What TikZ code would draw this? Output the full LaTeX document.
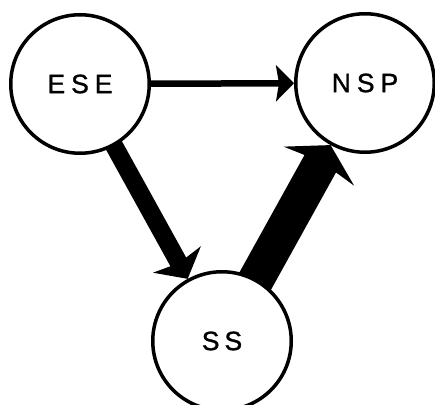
\documentclass[tikz,border=0pt]{standalone}
\usepackage{fontspec}
\setmainfont{Liberation Sans}[FakeBold=1.2]
\usetikzlibrary{arrows.meta,backgrounds}
\begin{document}
\begin{tikzpicture}[x=1pt,y=1pt,
  state/.style={circle, draw=black, line width=3.5pt, fill=white, minimum size=138.5pt, inner sep=0pt, font=\fontsize{26.5}{30}\selectfont},
  arrA/.style={draw=black, line width=6.5pt, -{Stealth[length=18pt,width=36pt,inset=3pt]}},
  arrB/.style={draw=black, line width=18pt, -{Stealth[length=22pt,width=54pt,inset=4pt]}},
  arrC/.style={draw=black, line width=36pt, -{Stealth[length=24pt,width=80pt,inset=5pt]}}]
\useasboundingbox (0,0) rectangle (435,404);
\node[state] (ese) at (80,320) {E\hspace{6pt}S\hspace{6pt}E};
\node[state] (nsp) at (365,321) {N\hspace{6pt}S\hspace{6pt}P};
\node[state] (ss) at (222,63) {S\hspace{5pt}S};
\begin{pgfonlayer}{background}
\fill[white] (0,0) rectangle (435,404);
\draw[arrA] (ese.center) -- (nsp);
\draw[arrB] (ese.center) -- (ss);
\draw[arrC] (ss.center) -- (nsp);
\end{pgfonlayer}
\end{tikzpicture}
\end{document}
